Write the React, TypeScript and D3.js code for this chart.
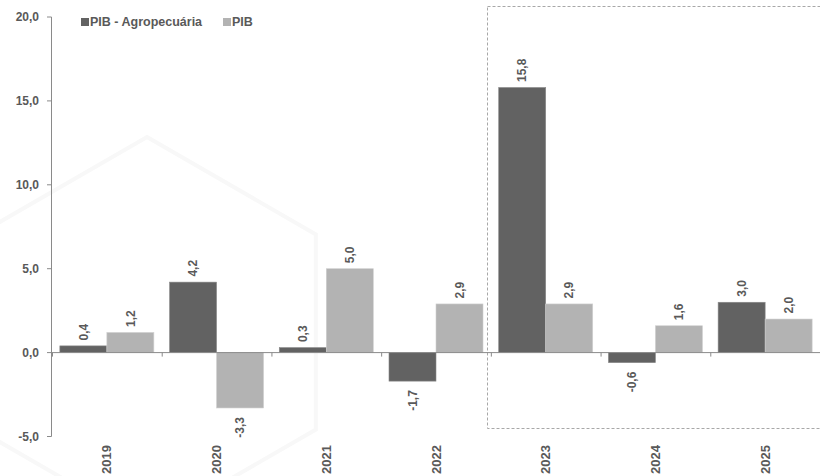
import React from "react";
import * as d3 from "d3";

const years = ["2019", "2020", "2021", "2022", "2023", "2024", "2025"];
const agro = [0.4, 4.2, 0.3, -1.7, 15.8, -0.6, 3.0];
const pib = [1.2, -3.3, 5.0, 2.9, 2.9, 1.6, 2.0];
const seriesNames = ["PIB - Agropecuária", "PIB"];
const yTicks = [-5, 0, 5, 10, 15, 20];

const W = 820;
const H = 476;
const DARK = "#626262";
const LIGHT = "#b3b3b3";
const TEXT = "#595959";
const AXIS = "#8a8a8a";
const FONT = "Liberation Sans, Arial, sans-serif";

const fmt = (v: number) => d3.format(".1f")(v).replace(".", ",").replace("\u2212", "-");

export default function App() {
  const x0 = d3.scaleBand<string>().domain(years).range([52, 820]).padding(0);
  const x1 = d3
    .scaleBand<number>()
    .domain([0, 1])
    .range([0, x0.bandwidth()])
    .paddingInner(0)
    .paddingOuter(0.167);
  const y = d3.scaleLinear().domain([-5, 20]).range([436.5, 17]);
  const y0 = y(0);
  const series = [agro, pib];
  const colors = [DARK, LIGHT];

  const hex = (cx: number, cy: number, r: number) =>
    d3.range(6).map((i) => {
      const a = (Math.PI / 3) * i - Math.PI / 2;
      return [cx + r * Math.cos(a), cy + r * Math.sin(a)];
    });
  const hexPath = (pts: number[][]) => "M" + pts.map((p) => p.join(",")).join("L") + "Z";

  return (
    <svg
      width={W}
      height={H}
      style={{ position: "absolute", left: 0, top: 0, background: "#fff" }}
      fontFamily={FONT}
    >
      <g fill="none" stroke="#f8f8f8" strokeWidth={4}>
        <path d={hexPath(hex(147, 332, 195))} />
      </g>

      <rect
        x={487.5}
        y={6.5}
        width={340}
        height={422}
        fill="none"
        stroke="#a8a8a8"
        strokeWidth={1}
        strokeDasharray="3,2"
      />

      {years.map((yr, i) => (
        <g key={yr} transform={`translate(${x0(yr)},0)`}>
          {series.map((s, j) => {
            const v = s[i];
            const bx = x1(j)!;
            const bw = x1.bandwidth();
            const top = Math.min(y(v), y0);
            const h = Math.abs(y(v) - y0);
            return (
              <rect
                key={j}
                x={bx}
                y={top}
                width={bw}
                height={h}
                fill={colors[j]}
                stroke={j === 0 ? "#8a8a8a" : "#d0d0d0"}
                strokeWidth={0.6}
              />
            );
          })}
        </g>
      ))}

      <line x1={51} x2={820} y1={y0} y2={y0} stroke={AXIS} strokeWidth={1} />
      {years.map((yr) => (
        <line
          key={"t" + yr}
          x1={x0(yr)! + 0.5}
          x2={x0(yr)! + 0.5}
          y1={y0}
          y2={y0 + 4}
          stroke={AXIS}
        />
      ))}

      <line x1={51.5} x2={51.5} y1={y(20)} y2={y(-5)} stroke={AXIS} strokeWidth={1} />
      {yTicks.map((t) => (
        <g key={"y" + t}>
          <line x1={47} x2={51.5} y1={y(t)} y2={y(t)} stroke={AXIS} />
          <text
            x={39}
            y={y(t)}
            dy="0.35em"
            textAnchor="end"
            fontSize={12}
            fontWeight="bold"
            fill={TEXT}
          >
            {fmt(t)}
          </text>
        </g>
      ))}

      {years.map((yr, i) =>
        series.map((s, j) => {
          const v = s[i];
          const cx = x0(yr)! + x1(j)! + x1.bandwidth() / 2;
          const pos = v >= 0;
          const ty = pos ? y(v) - 5.5 : y(v) + 9;
          return (
            <text
              key={yr + "-" + j}
              transform={`translate(${cx},${ty}) rotate(-90)`}
              textAnchor={pos ? "start" : "end"}
              dy="0.35em"
              fontSize={12}
              fontWeight="bold"
              fill={TEXT}
            >
              {fmt(v)}
            </text>
          );
        })
      )}

      {years.map((yr) => (
        <text
          key={"l" + yr}
          transform={`translate(${x0(yr)! + x0.bandwidth() / 2},${445}) rotate(-90)`}
          textAnchor="end"
          dy="0.35em"
          fontSize={13}
          fontWeight="bold"
          fill={TEXT}
        >
          {yr}
        </text>
      ))}

      {seriesNames.map((n, j) => {
        const lx = j === 0 ? 81 : 223;
        return (
          <g key={n}>
            <rect x={lx} y={18} width={8} height={8} fill={colors[j]} />
            <text
              x={lx + 9}
              y={22}
              dy="0.35em"
              fontSize={12.5}
              fontWeight="bold"
              fill={TEXT}
            >
              {n}
            </text>
          </g>
        );
      })}
    </svg>
  );
}
